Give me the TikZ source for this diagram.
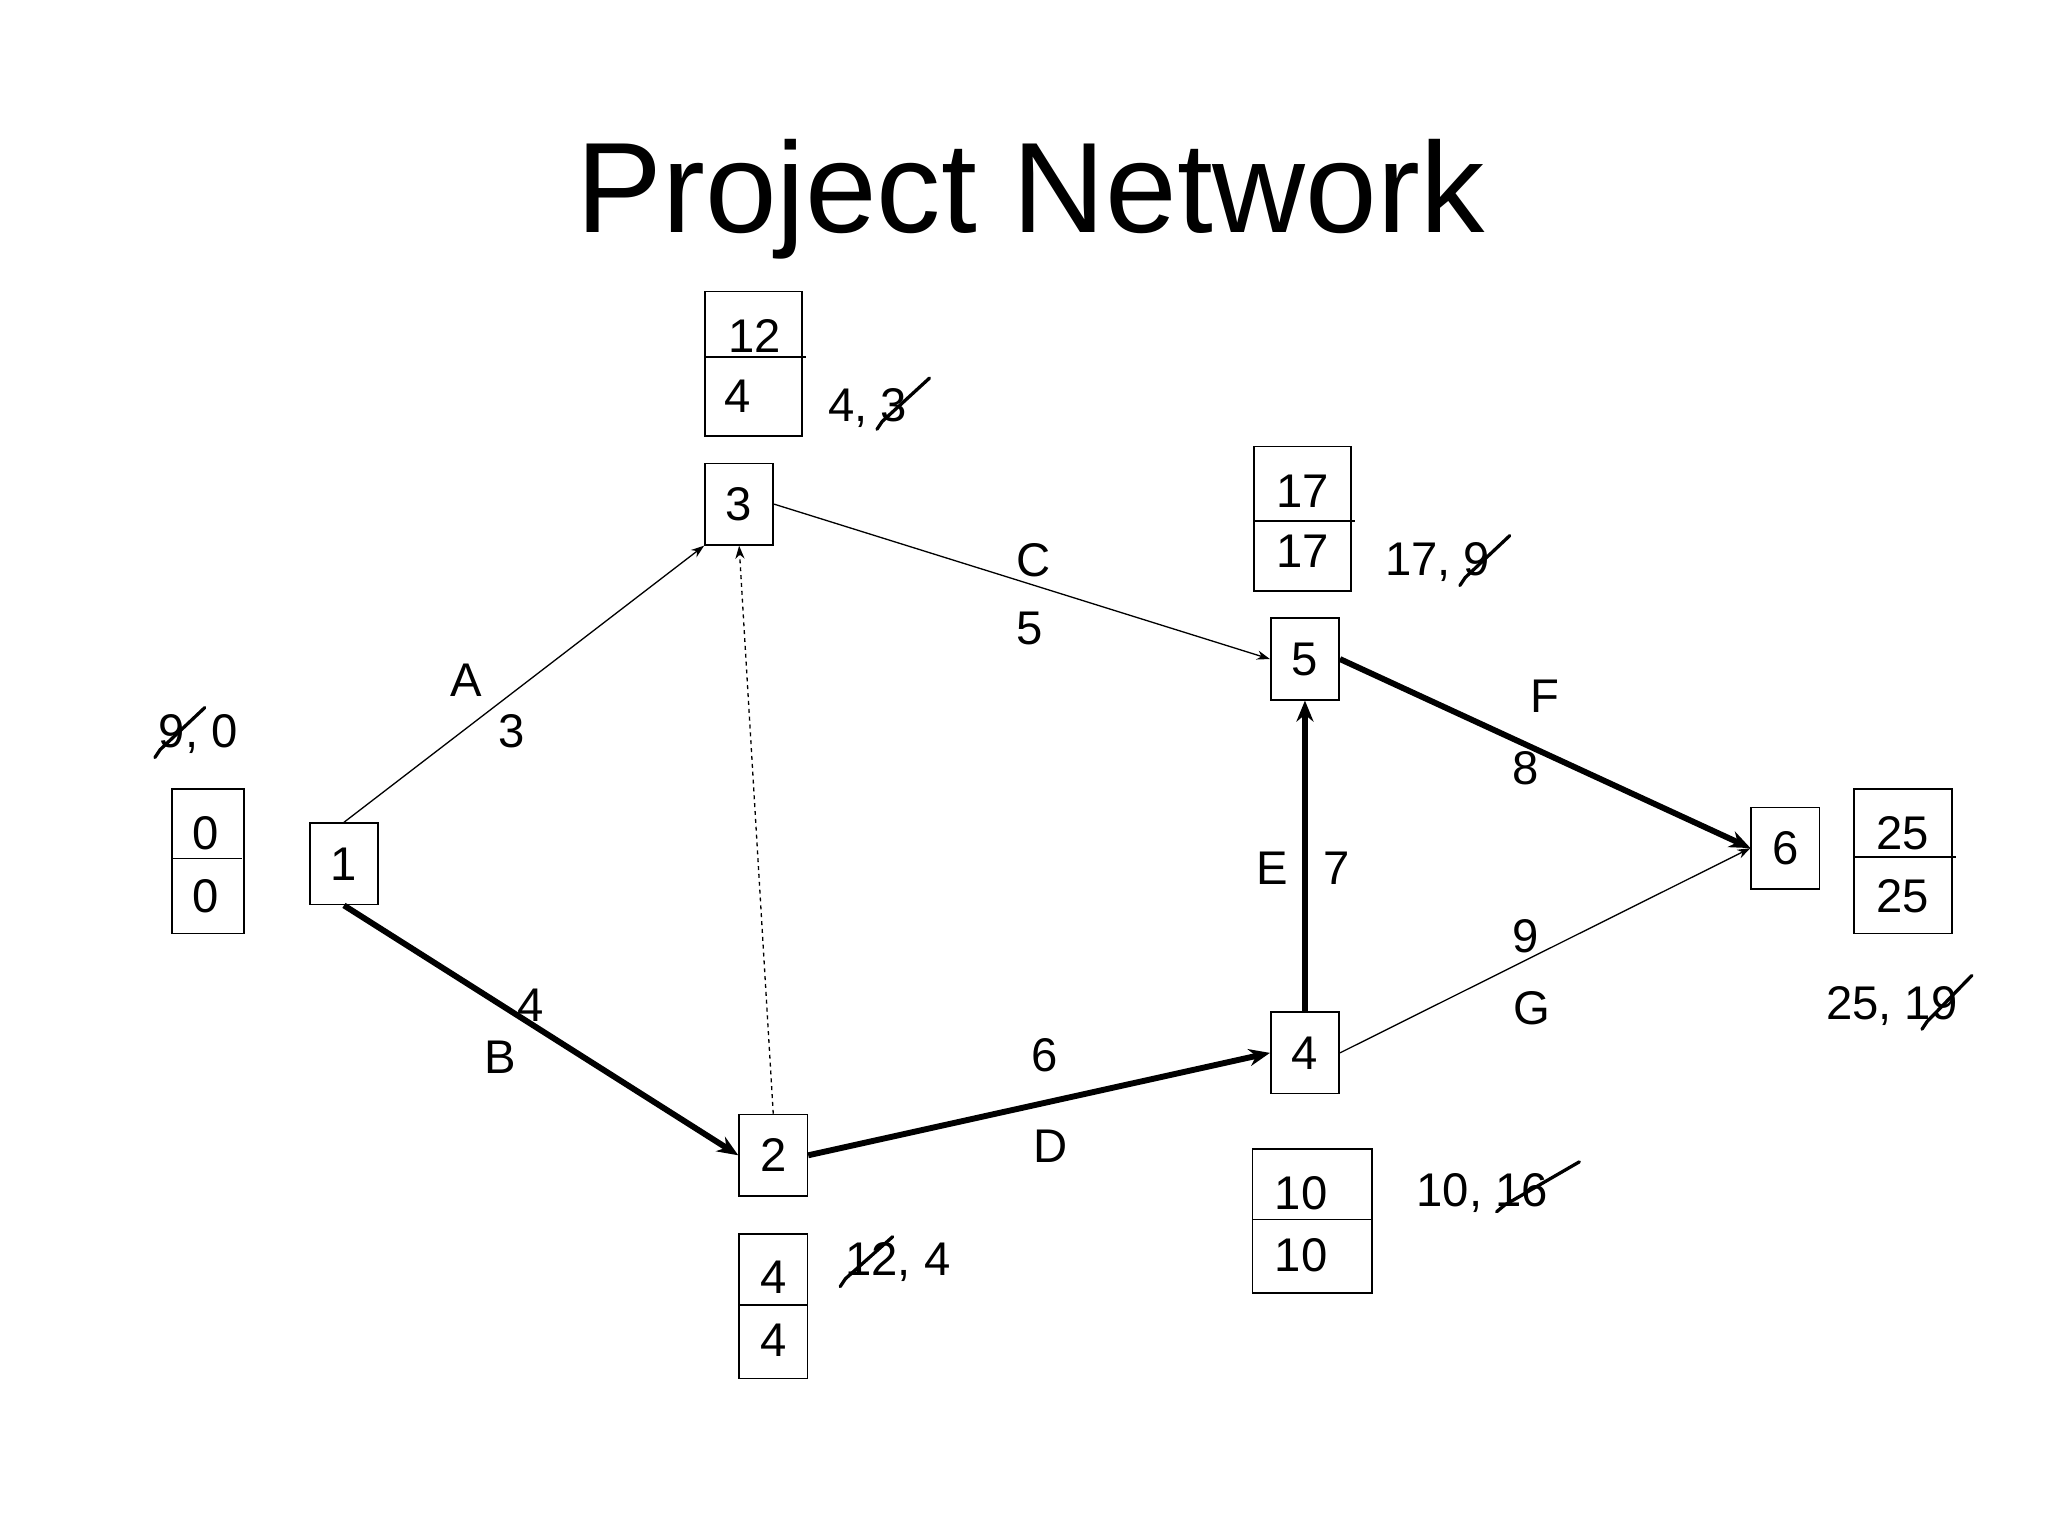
\documentclass[tikz,border=0pt]{standalone}
\usepackage{fontspec}
\setmainfont{Liberation Sans}
\usetikzlibrary{arrows.meta}
\begin{document}
\begin{tikzpicture}[x=1pt,y=-1pt,
  ev/.style={draw,line width=1.3pt,minimum width=52pt,minimum height=62pt,inner sep=0pt,font=\fontsize{36}{38}\selectfont},
  lab/.style={font=\fontsize{36}{38}\selectfont,inner sep=0pt},
  thin/.style={line width=1pt,-{Stealth[length=10pt,width=7pt]}},
  thick/.style={line width=4.5pt,-{Stealth[length=16pt,width=13pt]}},
  strike/.style={line width=2.5pt,line cap=round},
  stk/.style={draw,line width=1.3pt}]
\useasboundingbox (0,0) rectangle (1560,1170);
\node[font=\fontsize{98}{100}\selectfont] (title) at (785,152) {Project Network};
% event nodes
\node[ev] (n1) at (262,658) {1};
\node[ev] (n3) at (563,384) {3};
\node[ev] (n2) at (589,880) {2};
\node[ev] (n5) at (994,502) {5};
\node[ev] (n4) at (994,802) {4};
\node[ev] (n6) at (1360,646) {6};
% edges
\draw[thin] (n1.north) -- (n3.south west);
\draw[thick] (n1.south) -- (n2.west);
\draw[thin] (n3.east) -- (n5.west);
\draw[thick] (n2.east) -- (n4.west);
\draw[thick] (n4.north) -- (n5.south);
\draw[thick] (n5.east) -- (n6.west);
\draw[thin] (n4.east) -- (n6.west);
\draw[thin,dashed] (n2.north) -- (n3.south);
% edge labels
\node[lab] (lA) at (355,518) {A}; \node[lab] (l3) at (390,557) {3};
\node[lab] (lB) at (381,805) {B}; \node[lab] (l4) at (404,766) {4};
\node[lab] (lC) at (787,427) {C}; \node[lab] (l5) at (784,479) {5};
\node[lab] (lD) at (800,873) {D}; \node[lab] (l6) at (796,804) {6};
\node[lab] (lE) at (969,661) {E}; \node[lab] (l7) at (1018,661) {7};
\node[lab] (lF) at (1177,530) {F}; \node[lab] (l8) at (1162,585) {8};
\node[lab] (l9) at (1162,713) {9}; \node[lab] (lG) at (1167,768) {G};
% stacked boxes
\draw[stk] (537,222) rectangle (611,332); \draw[stk] (537,272) -- (614,272);
\node[lab] at (575,256) {12}; \node[lab] at (562,302) {4};
\draw[stk] (955,340) rectangle (1029,450); \draw[stk] (955,397) -- (1032,397);
\node[lab] at (992,374) {17}; \node[lab] at (992,420) {17};
\draw[stk] (131,601) rectangle (186,711); \draw[stk] (131,654) -- (184,654);
\node[lab] at (157,635) {0}; \node[lab] at (157,683) {0};
\draw[stk] (563,940) rectangle (615,1050); \draw[stk] (563,994) -- (615,994);
\node[lab] at (589,973) {4}; \node[lab] at (589,1021) {4};
\draw[stk] (954,875) rectangle (1045,985); \draw[stk] (954,929) -- (1045,929);
\node[lab] at (991,909) {10}; \node[lab] at (991,956) {10};
\draw[stk] (1412,601) rectangle (1487,711); \draw[stk] (1412,653) -- (1490,653);
\node[lab] at (1449,635) {25}; \node[lab] at (1449,683) {25};
% annotations
\node[lab] (a1) at (151,559) {9, 0};
\draw[strike] (118,577) -- (122,571) -- (156,539);
\node[lab] (a3) at (661,311) {4, 3};
\draw[strike] (668,327) -- (672,321) -- (708,288);
\node[lab] (a5) at (1095,428) {17, 9};
\draw[strike] (1112,446) -- (1116,440) -- (1150,408);
\node[lab] (a2) at (684,961) {12, 4};
\draw[strike] (640,980) -- (644,974) -- (680,942);
\node[lab] (a4) at (1129,909) {10, 16};
\draw[strike] (1140,923) -- (1146,918) -- (1203,885);
\node[lab] (a6) at (1441,766) {25, 19};
\draw[strike] (1464,784) -- (1468,778) -- (1502,743);
\end{tikzpicture}
\end{document}
